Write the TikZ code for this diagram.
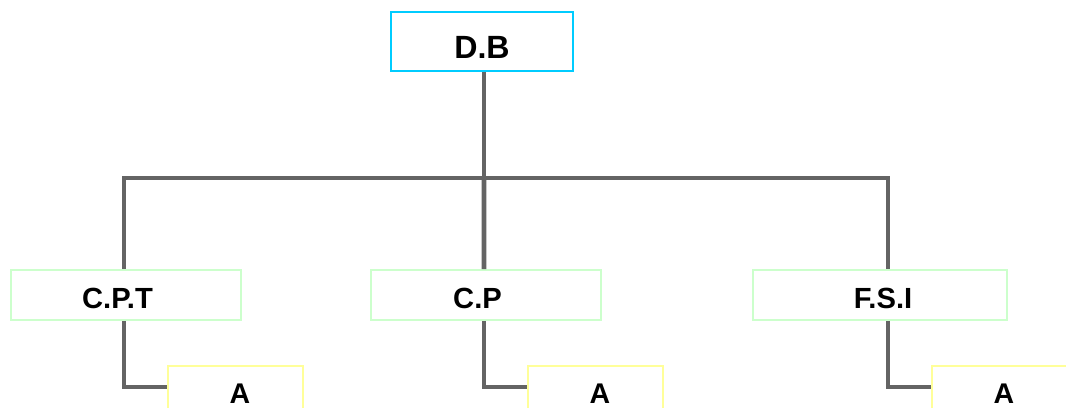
\documentclass[tikz,border=0pt]{standalone}
\usepackage{fontspec}
\setmainfont{Liberation Sans}

\definecolor{topline}{HTML}{00CCFF}
\definecolor{midline}{HTML}{CCFFCC}
\definecolor{lowline}{HTML}{FFFF99}
\definecolor{linkgray}{HTML}{646464}

\begin{document}
\begin{tikzpicture}
  [x=0.02cm,y=-0.02cm,
   every node/.style={rectangle, inner sep=0pt, text depth=0pt},
   nudge/.style={execute at begin node={\hspace*{#1}}},
   topbox/.style={draw=topline, line width=1.1pt, minimum width=3.64cm, minimum height=1.18cm, text height=0.68cm, font=\fontsize{18.3}{21}\selectfont\bfseries},
   midbox/.style={draw=midline, line width=1.1pt, minimum width=4.6cm, minimum height=1cm, text height=0.52cm, font=\fontsize{16.6}{19}\selectfont\bfseries},
   lowbox/.style={draw=lowline, line width=1.1pt, minimum width=2.7cm, minimum height=1cm, text height=0.48cm, nudge=0.18cm, font=\fontsize{16.2}{19}\selectfont\bfseries},
   link/.style={draw=linkgray, line width=2.8pt}]
  \useasboundingbox (0,0) rectangle (1066,407);
  \clip (0,0) rectangle (1066,407);

  \node[topbox] (db) at (482,41.5) {D.B};

  \node[midbox, nudge=-0.34cm] (cpt) at (126,295) {C.P.T};
  \node[midbox, nudge=-0.34cm] (cp) at (486,295) {C.P};
  \node[midbox, nudge=0.12cm, minimum width=5.08cm] (fsi) at (880,295) {F.S.I};

  \node[lowbox] (a1) at (235.5,391) {A};
  \node[lowbox] (a2) at (595.5,391) {A};
  \node[lowbox] (a3) at (999.5,391) {A};

  \coordinate (bar) at (484,178);

  \draw[link] (db.south -| bar) -- (bar);
  \draw[link] ([xshift=-0.04cm]cpt.north) |- (bar) -| ([xshift=0.16cm]fsi.north);
  \draw[link] (bar) -- ([xshift=-0.04cm]cp.north);

  \foreach \from/\to/\dx in {cpt/a1/-0.04cm, cp/a2/-0.04cm, fsi/a3/0.16cm}
    \draw[link] ([xshift=\dx]\from.south) |- ([yshift=0.08cm]\to.west);

\end{tikzpicture}
\end{document}
